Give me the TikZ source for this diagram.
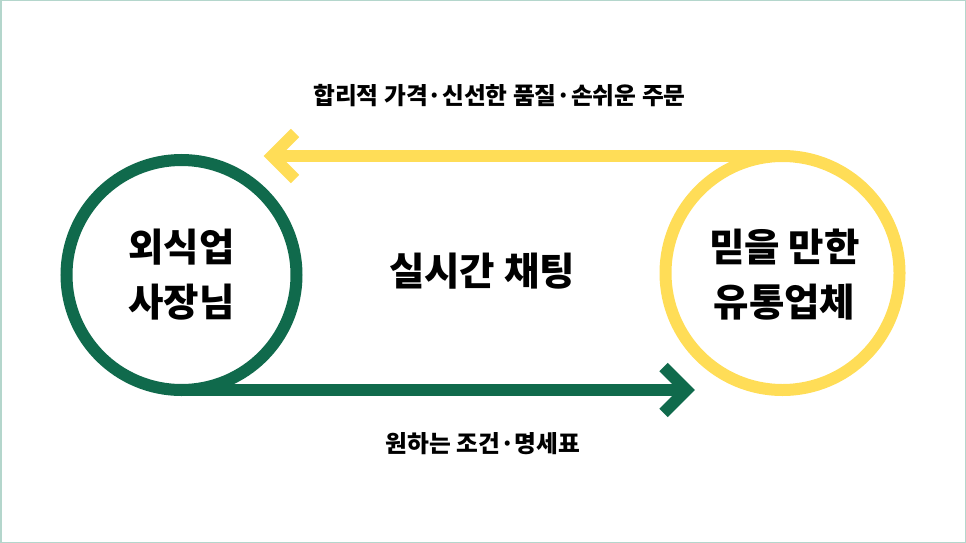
\documentclass[tikz,border=0pt]{standalone}
\usepackage{fontspec}
\usetikzlibrary{calc}
\setmainfont{Noto Sans CJK KR}
\definecolor{dgreen}{RGB}{16,106,76}
\definecolor{myellow}{RGB}{255,221,87}
\definecolor{frame}{RGB}{180,214,204}
\begin{document}
\begin{tikzpicture}[x=1pt,y=-1pt,
  ring/.style={circle,draw,line width=12pt,inner sep=0pt,outer sep=0pt},
  bigtxt/.style={font=\fontsize{38.5}{55}\selectfont\bfseries,align=center,inner sep=0pt},
  smalltxt/.style={font=\fontsize{23.7}{28}\selectfont\bfseries,inner sep=0pt},
  shaft/.style={line width=12pt},
  chev/.style={line width=12pt,line join=miter,miter limit=10}]
\useasboundingbox (0,0) rectangle (966,543);
\draw[frame,line width=1.5pt] (0.75,0.75) rectangle (965.25,542.25);
% circles
\node[ring,dgreen,minimum size=230pt] (lc) at (181.5,275) {};
\node[ring,myellow,minimum size=234pt] (rc) at (782.5,273) {};
% texts
\node[bigtxt] (lt) at (181.5,275) {외식업\\사장님};
\node[bigtxt] (rt) at (784.5,275) {믿을 만한\\유통업체};
\node[font=\fontsize{38.5}{40}\selectfont\bfseries,inner sep=0pt] (mid) at (482,271) {실시간 채팅};
\node[smalltxt] (top) at (499.5,96) {합리적 가격·신선한 품질·손쉬운 주문};
\node[smalltxt] (bot) at (483,444) {원하는 조건·명세표};
% yellow arrow
\coordinate (ytip) at (272,156);
\draw[myellow,shaft] (rc.north) -- (ytip);
\draw[myellow,chev] ($(ytip)+(23,-23)$) -- (ytip) -- ($(ytip)+(23,23)$);
% green arrow
\coordinate (gtip) at (686.5,390);
\draw[dgreen,shaft] (lc.south) -- (gtip);
\draw[dgreen,chev] ($(gtip)+(-23,-23)$) -- (gtip) -- ($(gtip)+(-23,23)$);
\end{tikzpicture}
\end{document}
